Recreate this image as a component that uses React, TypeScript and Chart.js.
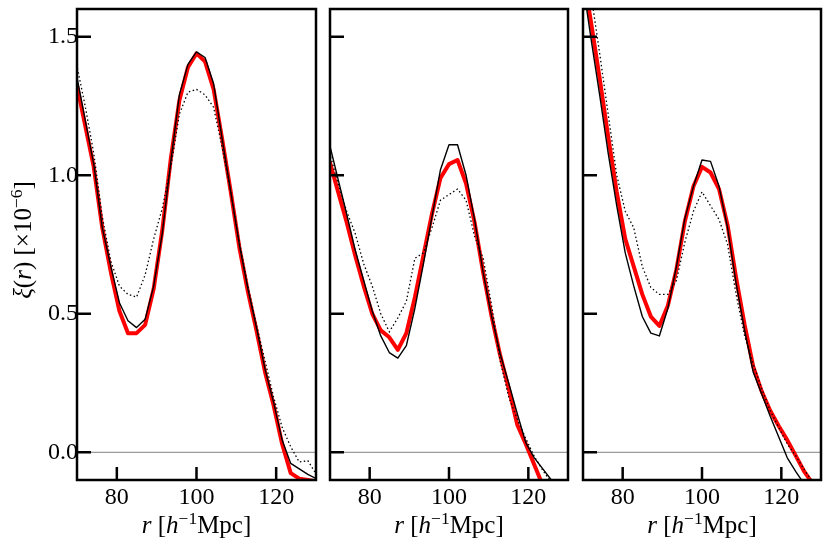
import { useEffect, useRef } from 'react'
import { Chart, registerables } from 'chart.js'

Chart.register(...registerables)

// separation bins, h^-1 Mpc
const rBins = [69.9, 72.05, 74.2, 76.35, 78.5, 80.65, 82.8, 84.95, 87.1, 89.25, 91.4, 93.55, 95.7, 97.85, 100, 102.15, 104.3, 106.45, 108.6, 110.75, 112.9, 115.05, 117.2, 119.35, 121.5, 123.65, 125.8, 127.95, 130.1]

// panel 1
const red1 = [1.33, 1.18, 1.03, 0.81, 0.65, 0.51, 0.43, 0.43, 0.46, 0.59, 0.8, 1.06, 1.27, 1.39, 1.44, 1.41, 1.31, 1.13, 0.94, 0.74, 0.58, 0.44, 0.29, 0.17, 0.03, -0.075, -0.095, -0.1, -0.105]
const solid1 = [1.36, 1.2, 1.04, 0.81, 0.67, 0.54, 0.475, 0.45, 0.48, 0.6, 0.79, 1.05, 1.29, 1.4, 1.445, 1.425, 1.33, 1.13, 0.94, 0.75, 0.59, 0.45, 0.3, 0.18, 0.044, -0.04, -0.06, -0.08, -0.095]
const dotted1 = [1.4, 1.25, 1.08, 0.85, 0.69, 0.6, 0.57, 0.56, 0.64, 0.77, 0.88, 1.03, 1.22, 1.3, 1.31, 1.29, 1.245, 1.1, 0.94, 0.76, 0.6, 0.46, 0.33, 0.2, 0.09, 0.02, -0.035, -0.03, -0.08]

// panel 2
const red2 = [1.05, 0.94, 0.83, 0.71, 0.6, 0.5, 0.44, 0.415, 0.37, 0.43, 0.56, 0.71, 0.86, 0.99, 1.04, 1.055, 0.97, 0.83, 0.65, 0.49, 0.35, 0.23, 0.1, 0.03, -0.045, -0.12, -0.2, -0.28, -0.36]
const solid2 = [1.11, 0.985, 0.86, 0.73, 0.62, 0.51, 0.42, 0.36, 0.34, 0.385, 0.52, 0.68, 0.85, 1.02, 1.11, 1.11, 1.0, 0.84, 0.65, 0.49, 0.355, 0.25, 0.14, 0.035, -0.02, -0.06, -0.1, -0.14, -0.18]
const dotted2 = [1.08, 0.97, 0.87, 0.79, 0.68, 0.6, 0.5, 0.435, 0.485, 0.545, 0.7, 0.72, 0.81, 0.91, 0.93, 0.95, 0.91, 0.78, 0.7, 0.53, 0.33, 0.2, 0.12, 0.05, -0.015, -0.065, -0.11, -0.16, -0.2]

// panel 3
const red3 = [1.74, 1.55, 1.35, 1.14, 0.94, 0.77, 0.67, 0.57, 0.49, 0.456, 0.53, 0.66, 0.835, 0.96, 1.03, 1.01, 0.95, 0.82, 0.63, 0.46, 0.31, 0.22, 0.15, 0.095, 0.044, -0.013, -0.07, -0.114, -0.16]
const solid3 = [1.7, 1.49, 1.29, 1.08, 0.89, 0.72, 0.6, 0.49, 0.43, 0.42, 0.52, 0.67, 0.845, 0.96, 1.055, 1.05, 0.96, 0.81, 0.61, 0.44, 0.29, 0.21, 0.13, 0.055, -0.02, -0.07, -0.115, -0.15, -0.18]
const dotted3 = [1.87, 1.65, 1.44, 1.22, 1.0, 0.87, 0.81, 0.67, 0.595, 0.57, 0.57, 0.62, 0.76, 0.87, 0.94, 0.89, 0.84, 0.75, 0.57, 0.42, 0.32, 0.23, 0.15, 0.09, 0.03, -0.013, -0.063, -0.108, -0.15]

const xTicks = [80, 100, 120]
const yTicks = [0, 0.5, 1.0, 1.5]

const panels = [
  { red: red1, solid: solid1, dotted: dotted1 },
  { red: red2, solid: solid2, dotted: dotted2 },
  { red: red3, solid: solid3, dotted: dotted3 },
]

const FONT = 'Liberation Serif'
const W = 830
const H = 550
const TOP = 9
const BOTTOM = 480
const panelEdges = [[77, 316], [330, 568], [583, 821]]

type Seg = { t: string; it?: boolean; sup?: boolean }

const xTitle: Seg[] = [{ t: 'r', it: true }, { t: ' [' }, { t: 'h', it: true }, { t: '\u22121', sup: true }, { t: 'Mpc]' }]
const yTitle: Seg[] = [{ t: '\u03be', it: true }, { t: '(' }, { t: 'r', it: true }, { t: ') [\u00d710' }, { t: '\u22126', sup: true }, { t: ']' }]

function drawRich(ctx: CanvasRenderingContext2D, segs: Seg[], x: number, y: number, size: number) {
  const fontOf = (s: Seg) => `${s.it ? 'italic ' : ''}${s.sup ? size * 0.7 : size}px "${FONT}"`
  let total = 0
  const widths = segs.map((s) => {
    ctx.font = fontOf(s)
    const w = ctx.measureText(s.t).width
    total += w
    return w
  })
  let cx = x - total / 2
  ctx.textAlign = 'left'
  ctx.textBaseline = 'alphabetic'
  ctx.fillStyle = '#000'
  segs.forEach((s, i) => {
    ctx.font = fontOf(s)
    ctx.fillText(s.t, cx, s.sup ? y - size * 0.38 : y)
    cx += widths[i]
  })
}

const pts = (vals: number[]) => rBins.map((r, i) => ({ x: r, y: vals[i] }))

function makePlugin(idx: number) {
  return {
    id: 'frame' + idx,
    beforeDatasetsDraw(chart: any) {
      const { ctx, chartArea: a, scales } = chart
      const py = scales.y.getPixelForValue(0)
      ctx.save()
      ctx.strokeStyle = '#808080'
      ctx.lineWidth = 1
      ctx.beginPath()
      ctx.moveTo(a.left, py)
      ctx.lineTo(a.right, py)
      ctx.stroke()
      ctx.restore()
    },
    afterDatasetsDraw(chart: any) {
      const { ctx, chartArea: a, scales } = chart
      ctx.save()
      ctx.strokeStyle = '#000'
      ctx.lineWidth = 2.5
      ctx.beginPath()
      yTicks.forEach((v) => {
        const py = scales.y.getPixelForValue(v)
        ctx.moveTo(a.left, py)
        ctx.lineTo(a.left + 14, py)
      })
      xTicks.forEach((v) => {
        const px = scales.x.getPixelForValue(v)
        ctx.moveTo(px, a.bottom)
        ctx.lineTo(px, a.bottom - 13)
      })
      ctx.stroke()
      ctx.strokeRect(a.left, a.top, a.right - a.left, a.bottom - a.top)
      ctx.restore()
    },
    afterDraw(chart: any) {
      const { ctx, chartArea: a } = chart
      ctx.save()
      drawRich(ctx, xTitle, (a.left + a.right) / 2, 533, 25)
      if (idx === 0) {
        ctx.translate(31, 240)
        ctx.rotate(-Math.PI / 2)
        drawRich(ctx, yTitle, 0, 0, 25)
      }
      ctx.restore()
    },
  }
}

function Panel({ idx }: { idx: number }) {
  const canvasRef = useRef<HTMLCanvasElement>(null)

  useEffect(() => {
    if (!canvasRef.current) return
    const [left, right] = panelEdges[idx]
    const showY = idx === 0
    const p = panels[idx]
    const chart = new Chart(canvasRef.current, {
      type: 'line',
      data: {
        datasets: [
          { data: pts(p.dotted), borderColor: '#000', borderWidth: 1.3, borderDash: [1.5, 2.5], pointRadius: 0, clip: 0 },
          { data: pts(p.solid), borderColor: '#000', borderWidth: 1.4, pointRadius: 0, clip: 0, borderJoinStyle: 'round' },
          { data: pts(p.red), borderColor: '#ff0000', borderWidth: 4, pointRadius: 0, clip: 0, borderJoinStyle: 'round' },
        ],
      },
      options: {
        animation: false,
        responsive: false,
        events: [],
        layout: { autoPadding: false, padding: { left: showY ? 0 : left, right: W - right, top: TOP, bottom: 0 } },
        plugins: { legend: { display: false }, tooltip: { enabled: false } },
        scales: {
          x: {
            type: 'linear',
            min: 70,
            max: 130,
            afterBuildTicks: (s: any) => { s.ticks = xTicks.map((value) => ({ value })) },
            afterFit: (s: any) => { s.height = H - BOTTOM; s.paddingLeft = 0; s.paddingRight = 0 },
            grid: { display: false, drawTicks: false },
            border: { display: false },
            ticks: { font: { family: FONT, size: 24 }, color: '#000', padding: 3, maxRotation: 0, autoSkip: false },
          },
          y: {
            type: 'linear',
            min: -0.1,
            max: 1.6,
            display: showY,
            afterBuildTicks: (s: any) => { s.ticks = yTicks.map((value) => ({ value })) },
            afterFit: (s: any) => {
              if (showY) s.width = left
              s.paddingTop = 0
              s.paddingBottom = 0
            },
            grid: { display: false, drawTicks: false },
            border: { display: false },
            ticks: { font: { family: FONT, size: 24 }, color: '#000', padding: -1, callback: (v: any) => Number(v).toFixed(1) },
          },
        },
      },
      plugins: [makePlugin(idx)],
    })
    return () => chart.destroy()
  }, [idx])

  return <canvas ref={canvasRef} width={W} height={H} style={{ position: 'absolute', left: 0, top: 0 }} />
}

export default function App() {
  return (
    <div style={{ position: 'absolute', left: 0, top: 0, width: W, height: H, background: '#fff' }}>
      <Panel idx={0} />
      <Panel idx={1} />
      <Panel idx={2} />
    </div>
  )
}
